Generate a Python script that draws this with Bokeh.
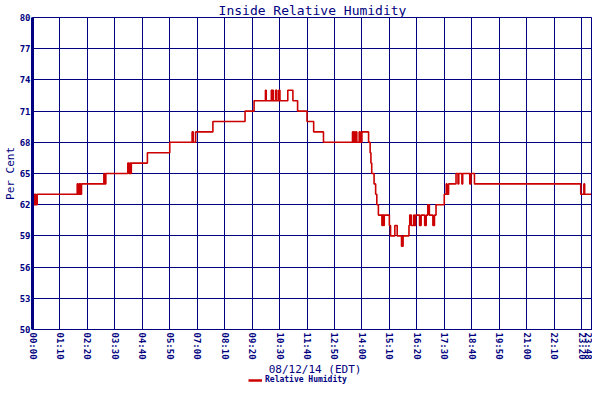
from bokeh.plotting import figure
from bokeh.layouts import column
from bokeh.models import (Range1d, FixedTicker, Legend, LegendItem, Span, Label)
from bokeh.embed import file_html
from bokeh.resources import INLINE

# ---- data (minutes after midnight, relative humidity %) ----
times = [0, 1, 2, 3, 5, 6, 8, 9, 12,
         114, 116, 119, 121, 122, 123, 125,
         182, 184, 187,
         243, 246, 249, 250, 252,
         293, 350,
         407, 410, 416,
         460, 542, 565,
         594, 596,
         609, 610, 611, 612, 613, 614,
         620, 621, 622, 623, 624,
         628, 629, 630, 631, 632,
         651, 664, 676, 700, 717, 742,
         816, 818, 819, 821, 824, 825, 826, 827, 833, 834, 835, 836, 840,
         857, 861, 863, 865, 871, 875, 878, 882,
         891, 893, 895, 897, 910, 913, 924, 930, 941, 945,
         960, 962, 966, 972, 974, 977, 987, 991, 1000, 1004,
         1008, 1012, 1021, 1025, 1029,
         1050, 1055, 1057, 1061,
         1080, 1085, 1087, 1095, 1097, 1115, 1118, 1127,
         1398, 1406, 1408, 1428]
humidity = [63, 62, 63, 62, 63, 62, 63, 62, 63,
            64, 63, 64, 63, 64, 63, 64,
            65, 64, 65,
            66, 65, 66, 65, 66,
            67, 68,
            69, 68, 69,
            70, 71, 72,
            73, 72,
            73, 72, 73, 72, 73, 72,
            73, 72, 73, 72, 72,
            73, 72, 73, 72, 72,
            73, 72, 71, 70, 69, 68,
            69, 68, 69, 68, 69, 68, 69, 68, 69, 68, 69, 68, 69,
            68, 67, 66, 65, 64, 63, 62, 61,
            60, 61, 60, 61, 60, 59, 60, 59, 58, 59,
            60, 61, 60, 61, 60, 61, 60, 61, 60, 61,
            62, 61, 60, 61, 62,
            63, 64, 63, 64,
            65, 64, 65, 64, 65, 64, 65, 64,
            63, 64, 63, 63]

x_ticks = [0, 70, 140, 210, 280, 350, 420, 490, 560, 630, 700, 770, 840,
           910, 980, 1050, 1120, 1190, 1260, 1330, 1400, 1428]
x_tick_labels = ["00:00", "01:10", "02:20", "03:30", "04:40", "05:50", "07:00",
                 "08:10", "09:20", "10:30", "11:40", "12:50", "14:00", "15:10",
                 "16:20", "17:30", "18:40", "19:50", "21:00", "22:10", "23:20",
                 "23:48"]
y_ticks = [50, 53, 56, 59, 62, 65, 68, 71, 74, 77, 80]

title_text = "Inside Relative Humidity"
x_label = "08/12/14 (EDT)"
y_label = "Per Cent"
series_name = "Relative Humidity"

NAVY = "#000080"
RED = "#CC0000"
MONO = "DejaVu Sans Mono"
W = 592

p = figure(width=W, height=362, output_backend="svg", toolbar_location=None,
           x_range=Range1d(x_ticks[0], x_ticks[-1]),
           y_range=Range1d(y_ticks[0], y_ticks[-1]),
           min_border_left=24, min_border_right=0, min_border_top=10,
           min_border_bottom=31)
p.background_fill_color = "white"
p.border_fill_color = "white"
p.outline_line_color = NAVY
p.outline_line_width = 1

p.title.text = title_text
p.title.text_font = MONO
p.title.text_font_size = "13px"
p.title.text_font_style = "normal"
p.title.text_color = NAVY
p.title.align = "center"
p.title.standoff = 0
p.title.offset = 0

r = p.step(times, humidity, mode="after", line_color=RED, line_width=1.6)

# grid
p.xgrid.ticker = FixedTicker(ticks=x_ticks)
p.ygrid.ticker = FixedTicker(ticks=y_ticks)
for g in (p.xgrid, p.ygrid):
    g.grid_line_color = NAVY
    g.grid_line_width = 1
    g.grid_line_alpha = 1

# x axis
xa = p.xaxis[0]
xa.ticker = FixedTicker(ticks=x_ticks)
xa.major_label_overrides = {t: lab for t, lab in zip(x_ticks, x_tick_labels)}
xa.major_label_orientation = "vertical"
xa.major_label_text_font = MONO
xa.major_label_text_font_size = "9px"
xa.major_label_text_font_style = "bold"
xa.major_label_text_color = NAVY
xa.major_label_standoff = 3
xa.major_tick_out = 0
xa.major_tick_in = 0
xa.minor_tick_out = 0
xa.minor_tick_in = 0
xa.axis_line_color = NAVY

# y axis
ya = p.yaxis[0]
ya.ticker = FixedTicker(ticks=y_ticks)
ya.major_label_text_font = MONO
ya.major_label_text_font_size = "9px"
ya.major_label_text_font_style = "bold"
ya.major_label_text_color = NAVY
ya.major_label_standoff = 2
ya.major_tick_out = 0
ya.major_tick_in = 0
ya.minor_tick_out = 0
ya.minor_tick_in = 0
ya.axis_line_color = NAVY
ya.axis_line_width = 3
ya.axis_label = y_label
ya.axis_label_text_font = MONO
ya.axis_label_text_font_size = "11px"
ya.axis_label_text_font_style = "normal"
ya.axis_label_text_color = NAVY
ya.axis_label_standoff = 0

# thick right border
p.add_layout(Span(location=x_ticks[-1], dimension="height",
                  line_color=NAVY, line_width=3))

# strip below the chart: x-axis title and legend (frame aligned with the chart)
SH = 22
FW = 557
pl = figure(width=W, height=SH, output_backend="svg", toolbar_location=None,
            x_axis_type=None, y_axis_type=None, min_border=0,
            min_border_left=25, min_border_right=0,
            x_range=Range1d(0, FW), y_range=Range1d(0, SH))
pl.outline_line_color = None
pl.grid.visible = False
pl.background_fill_color = "white"
pl.border_fill_color = "white"
# same series drawn out of this strip's view, used only for the legend swatch
rl = pl.line(times, humidity, line_color=RED, line_width=2.5)

pl.add_layout(Label(x=281, y=SH, text=x_label, text_align="center",
                    text_baseline="top", text_font=MONO,
                    text_font_size="11px", text_color=NAVY))

legend = Legend(items=[LegendItem(label=series_name, renderers=[rl])],
                location=(216, 0), orientation="horizontal")
legend.border_line_color = None
legend.background_fill_alpha = 0
legend.label_text_font = MONO
legend.label_text_font_size = "8px"
legend.label_text_font_style = "bold"
legend.label_text_color = NAVY
legend.glyph_width = 14
legend.glyph_height = 8
legend.label_height = 8
legend.label_standoff = 3
legend.padding = 0
legend.margin = 0
legend.spacing = 0
pl.add_layout(legend, "center")

layout = column(p, pl, spacing=0)
open("out.html", "w").write(file_html(layout, INLINE))
